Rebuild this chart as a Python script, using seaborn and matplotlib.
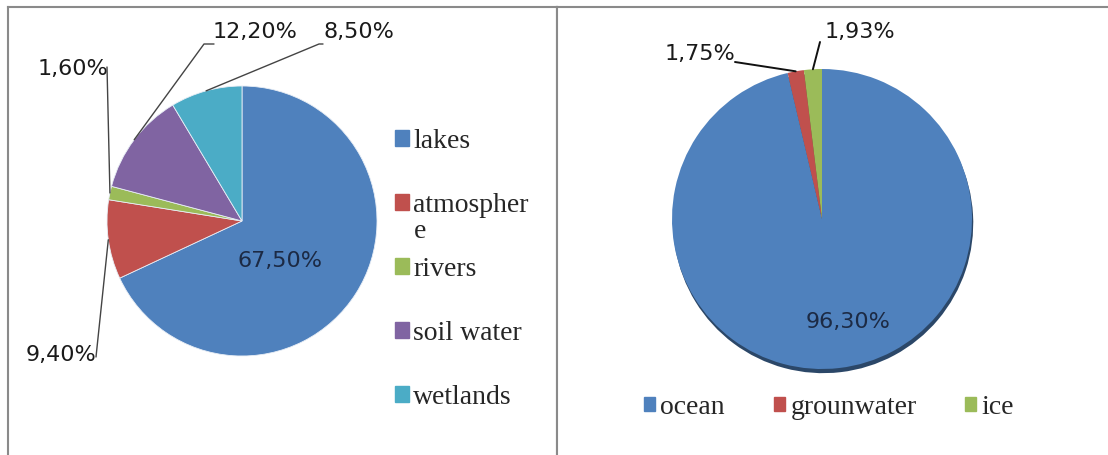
import matplotlib
matplotlib.use("Agg")
import numpy as np
import matplotlib.pyplot as plt
import seaborn as sns
from matplotlib.patches import Patch

# left pie: fresh water stores
fresh_labels = ["lakes", "atmospher", "rivers", "soil water", "wetlands"]
fresh_values = [67.5, 9.4, 1.6, 12.2, 8.5]
fresh_text = ["67,50%", "9,40%", "1,60%", "12,20%", "8,50%"]

# right pie: all water
total_labels = ["ocean", "grounwater", "ice"]
total_values = [96.3, 1.75, 1.93]
total_text = ["96,30%", "1,75%", "1,93%"]

sns.set_theme(style="white")
fresh_colors = sns.color_palette(["#4F81BD", "#C0504D", "#9BBB59", "#8064A2", "#4BACC6"])
total_colors = sns.color_palette(["#4F81BD", "#C0504D", "#9BBB59"])

W, H = 1108, 455
fig = plt.figure(figsize=(W / 100, H / 100), dpi=100)
fig.patch.set_facecolor("white")

serif = dict(family="Liberation Serif", size=20)


def fx(x):
    return x / W


def fy(y):
    return 1 - y / H


def frame(x0, x1, hide):
    ax = fig.add_axes([fx(x0), -0.02, fx(x1) - fx(x0), fy(7) + 0.02])
    ax.set_xticks([])
    ax.set_yticks([])
    for s in ax.spines.values():
        s.set_color("#8a8a8a")
        s.set_linewidth(1.5)
    for s in hide:
        ax.spines[s].set_visible(False)
    return ax


def pie_axes(cx, cy, r):
    return fig.add_axes([fx(cx - r), fy(cy + r), 2 * r / W, 2 * r / H])


def edge(w, r=1.0):
    a = np.deg2rad((w.theta1 + w.theta2) / 2)
    return r * np.cos(a), r * np.sin(a)


def leader(ax, w, start, arm=0, color="#444444", lw=1.0):
    if arm:
        cs = f"arc,angleA=180,armA={arm},angleB=0,armB=0,rad=0"
    else:
        cs = "arc3,rad=0"
    ax.annotate("", xy=edge(w), xycoords="data",
                xytext=(start[0], H - start[1]), textcoords="figure pixels",
                annotation_clip=False,
                arrowprops=dict(arrowstyle="-", color=color, lw=lw, shrinkA=0,
                                shrinkB=0, patchA=None, connectionstyle=cs))


def label(text, x, y, color="#1a1a1a"):
    fig.text(fx(x), fy(y), text, ha="center", va="center", color=color,
             fontsize=16, family="DejaVu Sans")


frame(8, 557, ["bottom"])
frame(557, 1112, ["bottom", "right"])

# left pie
ax1 = pie_axes(242, 221, 135)
wedges1, _ = ax1.pie(fresh_values, colors=fresh_colors, startangle=90,
                     counterclock=False,
                     wedgeprops=dict(linewidth=0.6, edgecolor="#e8eef6"))
ax1.set_xlim(-1, 1)
ax1.set_ylim(-1, 1)
ax1.set_aspect("auto")
ax1.axis("off")

label(fresh_text[0], 280, 261, color="#1c2a44")
label(fresh_text[1], 61, 355)
label(fresh_text[2], 73, 69)
label(fresh_text[3], 255, 32)
label(fresh_text[4], 359, 32)
leader(ax1, wedges1[1], (96, 357))
leader(ax1, wedges1[2], (107, 67))
leader(ax1, wedges1[3], (214, 44), arm=10)
leader(ax1, wedges1[4], (323, 44), arm=4)

fig.legend(handles=[Patch(color=c, label=l) for c, l in zip(fresh_colors, fresh_labels)],
           loc="upper left", bbox_to_anchor=(fx(395), fy(129)), frameon=False,
           prop=serif, handlelength=0.5, handleheight=0.5, handletextpad=0.15,
           labelspacing=1.4, borderaxespad=0, borderpad=0)
# the long legend label wraps its last letter onto a second line
fig.text(fx(414), fy(232), "e", ha="left", va="center", color="#262626",
         **serif)

# right pie
ax2 = pie_axes(822, 219, 150)
wedges2, _ = ax2.pie(total_values, colors=total_colors, startangle=90,
                     counterclock=False,
                     shadow={"ox": 0.006, "oy": -0.02, "shade": 0.45, "alpha": 1.0},
                     wedgeprops=dict(linewidth=0))
ax2.set_xlim(-1, 1)
ax2.set_ylim(-1, 1)
ax2.set_aspect("auto")
ax2.axis("off")

label(total_text[0], 848, 322, color="#1c2a44")
label(total_text[1], 700, 54)
label(total_text[2], 860, 32)
leader(ax2, wedges2[1], (735, 62), color="#111111", lw=1.4)
leader(ax2, wedges2[2], (820, 42), color="#111111", lw=1.4)

fig.legend(handles=[Patch(color=c, label=l) for c, l in zip(total_colors, total_labels)],
           loc="center", bbox_to_anchor=(fx(829), fy(407)), ncol=3, frameon=False,
           prop=serif, handlelength=0.4, handleheight=0.4, handletextpad=0.2,
           columnspacing=1.75, borderaxespad=0, borderpad=0)

fig.savefig("out.png", dpi=100)
